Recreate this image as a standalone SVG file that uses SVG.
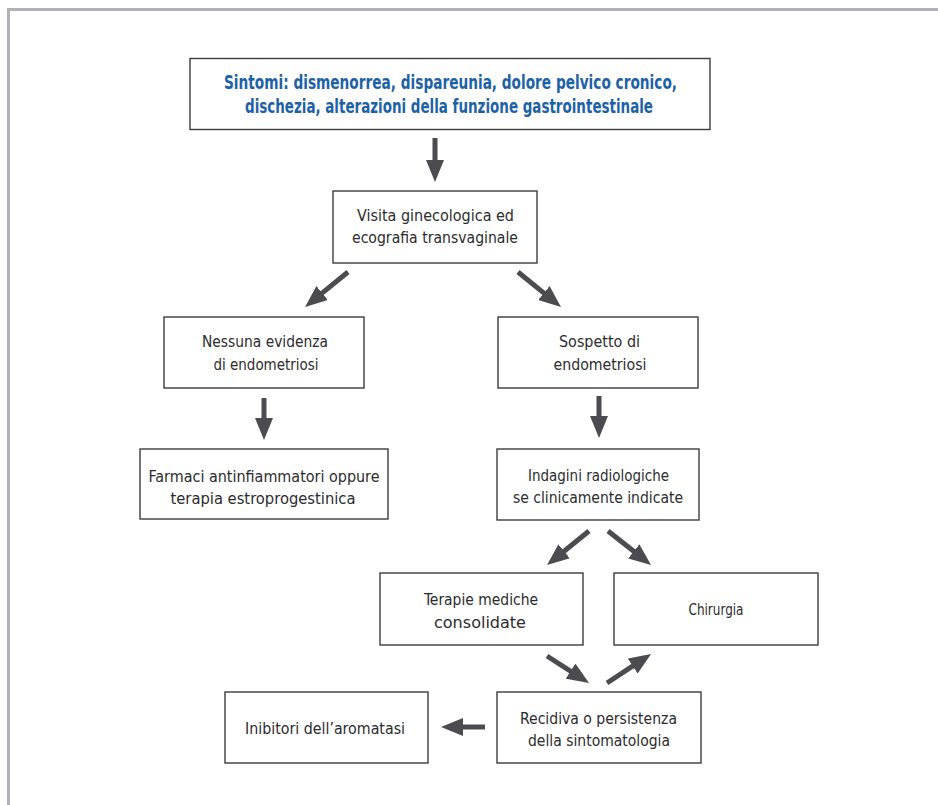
<svg xmlns="http://www.w3.org/2000/svg" width="938" height="805" viewBox="0 0 938 805">
<style>
  .box{fill:#ffffff;stroke:#3c3c3e;stroke-width:1.4}
  .t{font-family:"DejaVu Sans Condensed","Liberation Sans",sans-serif;font-size:16.5px;fill:#2b2b2d;text-anchor:middle}
  .h{font-family:"DejaVu Sans Condensed","Liberation Sans",sans-serif;font-size:19px;font-weight:bold;fill:#1d62a6;text-anchor:middle}
  .c{stroke:#4b4b50;stroke-width:5;fill:none;marker-end:url(#ah)}
</style>
<defs>
  <marker id="ah" markerUnits="userSpaceOnUse" viewBox="0 0 22 18" markerWidth="22" markerHeight="18" refX="4" refY="9" orient="auto">
    <path d="M0,0 L22,9 L0,18 z" fill="#4b4b50"/>
  </marker>
</defs>
<rect x="0" y="0" width="938" height="805" fill="#ffffff"/>
<path d="M8.5,805 V9.5 H938" fill="none" stroke="#b2b2b6" stroke-width="3"/>

<g id="n-sintomi">
  <rect class="box" x="190" y="58.5" width="520" height="71" stroke-width="1.6"/>
  <text class="h" x="450.5" y="89" textLength="453" lengthAdjust="spacingAndGlyphs">Sintomi: dismenorrea, dispareunia, dolore pelvico cronico,</text>
  <text class="h" x="449" y="113" textLength="408" lengthAdjust="spacingAndGlyphs">dischezia, alterazioni della funzione gastrointestinale</text>
</g>
<g id="n-visita">
  <rect class="box" x="333" y="191" width="204" height="72"/>
  <text class="t" x="435.5" y="221" textLength="157" lengthAdjust="spacingAndGlyphs">Visita ginecologica ed</text>
  <text class="t" x="435" y="243" textLength="166" lengthAdjust="spacingAndGlyphs">ecografia transvaginale</text>
</g>
<g id="n-nessuna">
  <rect class="box" x="164" y="317" width="200" height="71"/>
  <text class="t" x="265" y="347" textLength="126" lengthAdjust="spacingAndGlyphs">Nessuna evidenza</text>
  <text class="t" x="266" y="370" textLength="105" lengthAdjust="spacingAndGlyphs">di endometriosi</text>
</g>
<g id="n-sospetto">
  <rect class="box" x="498" y="317" width="200" height="71"/>
  <text class="t" x="599.5" y="347" textLength="81" lengthAdjust="spacingAndGlyphs">Sospetto di</text>
  <text class="t" x="600" y="370" textLength="93" lengthAdjust="spacingAndGlyphs">endometriosi</text>
</g>
<g id="n-farmaci">
  <rect class="box" x="140" y="449" width="248" height="70"/>
  <text class="t" x="264" y="482" textLength="231" lengthAdjust="spacingAndGlyphs">Farmaci antinfiammatori oppure</text>
  <text class="t" x="263" y="504" textLength="185" lengthAdjust="spacingAndGlyphs">terapia estroprogestinica</text>
</g>
<g id="n-indagini">
  <rect class="box" x="497" y="449" width="202" height="71"/>
  <text class="t" x="598.5" y="481" textLength="141" lengthAdjust="spacingAndGlyphs">Indagini radiologiche</text>
  <text class="t" x="598" y="503" textLength="170" lengthAdjust="spacingAndGlyphs">se clinicamente indicate</text>
</g>
<g id="n-terapie">
  <rect class="box" x="380" y="573" width="203" height="72"/>
  <text class="t" x="481" y="605" textLength="114" lengthAdjust="spacingAndGlyphs">Terapie mediche</text>
  <text class="t" x="480" y="628" textLength="92" lengthAdjust="spacingAndGlyphs">consolidate</text>
</g>
<g id="n-chirurgia">
  <rect class="box" x="614" y="573" width="204" height="72"/>
  <text class="t" x="716" y="615" textLength="55" lengthAdjust="spacingAndGlyphs">Chirurgia</text>
</g>
<g id="n-recidiva">
  <rect class="box" x="497" y="692" width="204" height="71"/>
  <text class="t" x="598.5" y="724" textLength="157" lengthAdjust="spacingAndGlyphs">Recidiva o persistenza</text>
  <text class="t" x="599" y="746" textLength="142" lengthAdjust="spacingAndGlyphs">della sintomatologia</text>
</g>
<g id="n-inibitori">
  <rect class="box" x="225" y="692" width="203" height="71"/>
  <text class="t" x="325" y="734" textLength="160" lengthAdjust="spacingAndGlyphs">Inibitori dell’aromatasi</text>
</g>

<g id="connectors">
  <path class="c" d="M435,138 L435,164"/>
  <path class="c" d="M348,272 L319,295.6"/>
  <path class="c" d="M518,272 L547,295.6"/>
  <path class="c" d="M264,398 L264,422"/>
  <path class="c" d="M599,396 L599,420"/>
  <path class="c" d="M589,531 L561,553.7"/>
  <path class="c" d="M608,531 L636.9,553.8"/>
  <path class="c" d="M547,656 L573.9,673.3"/>
  <path class="c" d="M607,683 L636,663.9"/>
  <path class="c" d="M485,727 L459,727"/>
</g>
</svg>
